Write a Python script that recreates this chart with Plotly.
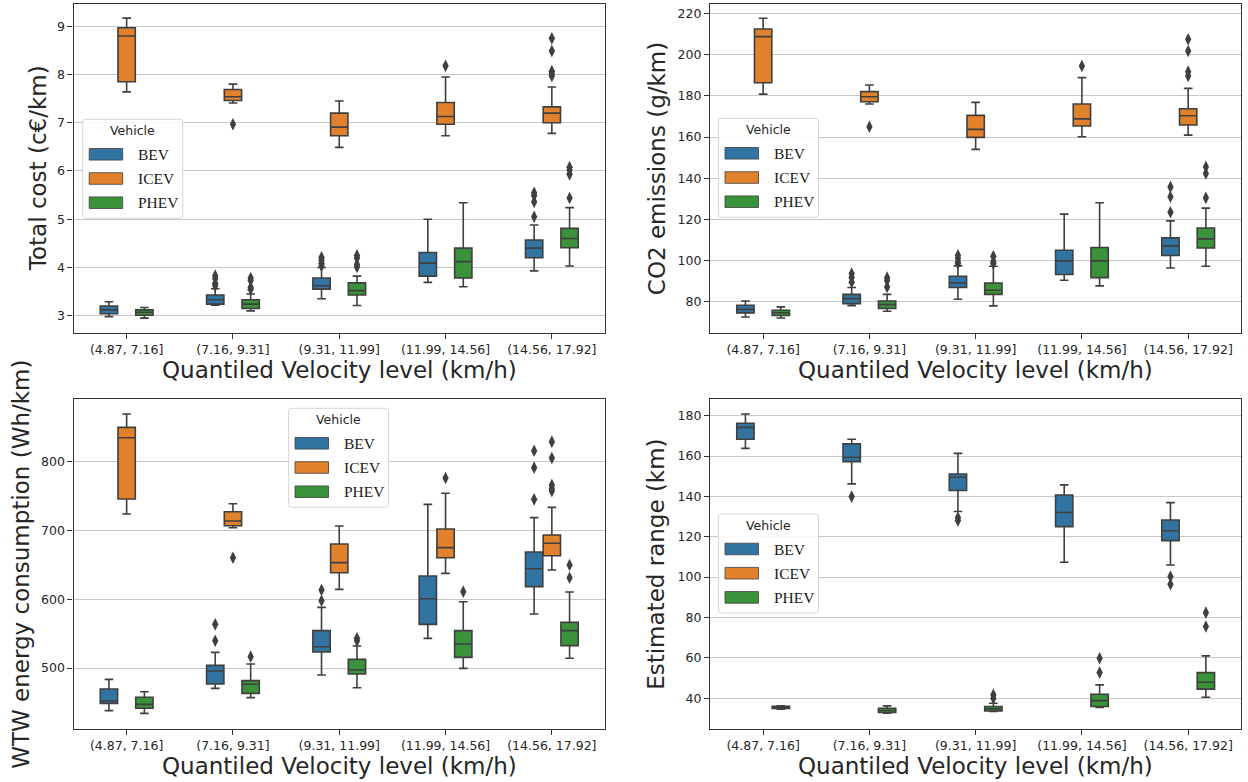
import plotly.graph_objects as go

# Velocity bins shared by all four panels
CATEGORIES = ["(4.87, 7.16]", "(7.16, 9.31]", "(9.31, 11.99]", "(11.99, 14.56]", "(14.56, 17.92]"]
VEHICLES = ["BEV", "ICEV", "PHEV"]
COLORS = {"BEV": "#3274a1", "ICEV": "#e1812c", "PHEV": "#3a923a"}

# Box statistics per bin: [lower whisker, q1, median, q3, upper whisker]; None = no data
COST_BEV = [[2.98, 3.04, 3.12, 3.20, 3.29], [3.22, 3.24, 3.33, 3.43, 3.56], [3.35, 3.55, 3.62, 3.78, 4.00],
            [3.69, 3.82, 4.09, 4.31, 5.00], [3.93, 4.20, 4.40, 4.57, 4.88]]
COST_BEV_OUT = [[], [3.83, 3.77, 3.67, 3.62], [4.21, 4.15, 4.08, 4.03], [], [5.55, 5.49, 5.36, 5.05]]
COST_ICEV = [[7.64, 7.85, 8.80, 8.97, 9.17], [7.41, 7.46, 7.54, 7.69, 7.80], [6.49, 6.73, 6.91, 7.20, 7.45],
             [6.73, 6.97, 7.13, 7.42, 7.95], [6.78, 7.00, 7.20, 7.33, 7.74]]
COST_ICEV_OUT = [[], [6.97], [], [8.18], [8.75, 8.49, 8.07, 8.02, 7.97]]
COST_PHEV = [[2.95, 3.01, 3.07, 3.12, 3.17], [3.10, 3.15, 3.24, 3.33, 3.45], [3.21, 3.43, 3.52, 3.68, 3.82],
             [3.60, 3.78, 4.12, 4.40, 5.34], [4.03, 4.41, 4.60, 4.81, 5.24]]
COST_PHEV_OUT = [[], [3.78, 3.73, 3.59, 3.55], [4.25, 4.19, 4.06, 4.01], [], [6.08, 6.02, 5.93, 5.44]]

CO2_BEV = [[72.7, 74.7, 76.4, 78.4, 80.5], [78.2, 79.2, 81.6, 83.7, 87.0], [81.3, 87.0, 89.2, 92.5, 97.5],
           [90.5, 93.3, 99.9, 105.1, 122.6], [96.5, 102.5, 107.2, 111.1, 119.3]]
CO2_BEV_OUT = [[], [93.8, 91.9, 89.6], [102.6, 101.2, 99.5, 98.6], [], [135.8, 131.0, 123.5]]
CO2_ICEV = [[180.8, 186.3, 208.7, 212.4, 217.6], [176.0, 177.1, 179.5, 182.0, 185.2],
            [154.0, 159.8, 163.7, 170.5, 176.8], [160.1, 165.3, 168.8, 176.0, 188.8],
            [160.9, 165.8, 170.3, 173.7, 183.6]]
CO2_ICEV_OUT = [[], [165.0], [], [194.4], [207.4, 201.7, 191.7, 189.6]]
CO2_PHEV = [[72.2, 73.4, 74.8, 76.0, 77.6], [75.5, 76.8, 78.7, 80.5, 83.7], [78.1, 83.7, 85.7, 89.2, 97.3],
            [87.8, 91.8, 99.9, 106.4, 128.1], [97.3, 106.2, 110.6, 115.9, 125.5]]
CO2_PHEV_OUT = [[], [91.8, 90.4, 87.3], [102.2, 99.6, 98.6], [], [145.5, 142.3, 130.5]]

WTW_BEV = [[438.0, 448.6, 452.0, 469.5, 483.5], [470.4, 476.7, 495.6, 503.9, 522.8],
           [489.8, 523.3, 531.0, 554.3, 588.2], [543.1, 563.5, 600.8, 633.8, 738.0],
           [578.5, 618.3, 644.4, 668.7, 718.6]]
WTW_BEV_OUT = [[], [563.5, 539.7], [613.4, 597.9], [], [816.0, 791.3, 745.2]]
WTW_ICEV = [[723.9, 745.7, 834.9, 849.9, 869.3], [704.0, 706.9, 713.7, 727.3, 738.9],
            [614.4, 638.6, 653.2, 680.3, 706.5], [637.6, 660.4, 675.0, 702.1, 754.0],
            [642.5, 663.3, 681.3, 693.4, 733.6]]
WTW_ICEV_OUT = [[], [660.4], [], [776.3], [829.1, 805.3, 766.1, 761.0, 757.4]]
WTW_PHEV = [[434.1, 441.4, 447.2, 457.4, 465.6], [456.9, 463.2, 476.3, 481.6, 505.8],
            [471.4, 491.3, 497.1, 512.6, 532.0], [499.5, 515.5, 534.9, 554.3, 596.4],
            [514.1, 532.5, 554.3, 566.4, 610.5]]
WTW_PHEV_OUT = [[], [516.5], [543.1, 539.7], [611.0], [649.8, 631.3]]

RANGE_BEV = [[163.8, 168.3, 174.2, 176.2, 180.8], [146.2, 157.2, 159.4, 166.0, 168.3],
             [132.5, 142.9, 149.5, 151.1, 161.3], [107.4, 125.0, 132.0, 140.7, 145.7],
             [106.0, 118.1, 123.0, 128.3, 136.9]]
RANGE_BEV_OUT = [[], [139.9], [129.5, 128.0], [], [100.3, 96.5]]
RANGE_ICEV = [None, None, None, None, None]
RANGE_ICEV_OUT = [[], [], [], [], []]
RANGE_PHEV = [[34.6, 34.9, 35.4, 36.0, 36.3], [32.6, 32.9, 33.9, 35.0, 36.2], [33.4, 33.7, 34.7, 35.9, 37.5],
              [35.4, 35.9, 38.8, 42.0, 46.6], [40.5, 44.5, 47.9, 52.7, 61.0]]
RANGE_PHEV_OUT = [[], [], [41.7, 40.0], [59.8, 52.7], [82.4, 75.5]]

W, H = 1248, 782
TEXT = "#262626"
EDGE = "#3f3f3f"
HUE_STEP = 0.1667      # dodge between hue levels
BOX_W = 0.163          # box width in category units

# panel: (axis suffix, stats, y-title, y range, dtick, frame px [l, t, r, b], legend px [l, t], y-title x px)
PANELS = [
    ("", {"BEV": (COST_BEV, COST_BEV_OUT), "ICEV": (COST_ICEV, COST_ICEV_OUT), "PHEV": (COST_PHEV, COST_PHEV_OUT)},
     "Total cost (c€/km)", [2.635, 9.462], 1, [73.5, 4, 605, 333.3], [82.7, 119.3], 37.5),
    ("2", {"BEV": (CO2_BEV, CO2_BEV_OUT), "ICEV": (CO2_ICEV, CO2_ICEV_OUT), "PHEV": (CO2_PHEV, CO2_PHEV_OUT)},
     "CO2 emissions (g/km)", [64.8, 224.5], 20, [710, 4, 1241.3, 333.3], [718.5, 118.3], 656.5),
    ("3", {"BEV": (WTW_BEV, WTW_BEV_OUT), "ICEV": (WTW_ICEV, WTW_ICEV_OUT), "PHEV": (WTW_PHEV, WTW_PHEV_OUT)},
     "WTW energy consumption (Wh/km)", [410.9, 890.7], 100, [73.5, 399.3, 605, 729.3], [288.5, 408.3], 21.5),
    ("4", {"BEV": (RANGE_BEV, RANGE_BEV_OUT), "ICEV": (RANGE_ICEV, RANGE_ICEV_OUT),
           "PHEV": (RANGE_PHEV, RANGE_PHEV_OUT)},
     "Estimated range (km)", [24.6, 188.1], 20, [710, 399.3, 1241.3, 729.3], [718.5, 514], 656.5),
]

fig = go.Figure()
layout = dict(width=W, height=H, margin=dict(l=0, r=0, t=0, b=0), showlegend=False,
              paper_bgcolor="white", plot_bgcolor="white",
              font=dict(family="DejaVu Sans", color=TEXT, size=12.5))
shapes, annotations = [], []


def px(x):
    return x / W


def py(y):
    return 1 - y / H


def rounded_rect(x0, y0, x1, y1, r):
    """Rounded rectangle path in paper coordinates from pixel corners."""
    rx, ry = r / W, r / H
    a0, a1, b0, b1 = px(x0), px(x1), py(y1), py(y0)
    return (f"M{a0 + rx},{b0} L{a1 - rx},{b0} Q{a1},{b0} {a1},{b0 + ry} "
            f"L{a1},{b1 - ry} Q{a1},{b1} {a1 - rx},{b1} L{a0 + rx},{b1} Q{a0},{b1} {a0},{b1 - ry} "
            f"L{a0},{b0 + ry} Q{a0},{b0} {a0 + rx},{b0} Z")


for suffix, stats, ytitle, yrange, dtick, frame, leg, ytitle_x in PANELS:
    xa, ya = "x" + suffix, "y" + suffix
    for k, veh in enumerate(VEHICLES):
        boxes, outs = stats[veh]
        off = (k - 1) * HUE_STEP
        xs, lo, q1, med, q3, hi = [], [], [], [], [], []
        for i, b in enumerate(boxes):
            if b is None:
                continue
            xs.append(i + off)
            lo.append(b[0]); q1.append(b[1]); med.append(b[2]); q3.append(b[3]); hi.append(b[4])
        if xs:
            fig.add_trace(go.Box(x=xs, lowerfence=lo, q1=q1, median=med, q3=q3, upperfence=hi,
                                 width=BOX_W, whiskerwidth=0.5, boxpoints=False,
                                 fillcolor=COLORS[veh], line=dict(color=EDGE, width=1.6),
                                 name=veh, xaxis=xa, yaxis=ya, hoverinfo="skip"))
        ox, oy = [], []
        for i, vals in enumerate(outs):
            for v in vals:
                ox.append(i + off)
                oy.append(v)
        if ox:
            fig.add_trace(go.Scatter(x=ox, y=oy, mode="markers", xaxis=xa, yaxis=ya,
                                     marker=dict(symbol="diamond-tall", size=9, color=EDGE,
                                                 line=dict(width=0)),
                                     hoverinfo="skip", name=veh + " outliers"))

    l, t, r, b = frame
    layout["xaxis" + suffix] = dict(domain=[px(l), px(r)], anchor=ya, range=[-0.5, 4.5],
                                    tickmode="array", tickvals=list(range(len(CATEGORIES))),
                                    ticktext=CATEGORIES, ticks="outside", ticklen=5, tickwidth=1.2,
                                    tickcolor="#333333", showline=True, mirror=True,
                                    linecolor="#333333", linewidth=1.2, showgrid=False, zeroline=False,
                                    tickfont=dict(size=12.5, color=TEXT))
    layout["yaxis" + suffix] = dict(domain=[py(b), py(t)], anchor=xa, range=yrange, dtick=dtick,
                                    ticks="outside", ticklen=5, tickwidth=1.2, tickcolor="#333333",
                                    showline=True, mirror=True, linecolor="#333333", linewidth=1.2,
                                    showgrid=True, gridcolor="#c8c8c8", gridwidth=1, zeroline=False,
                                    tickfont=dict(size=12.5, color=TEXT))

    # axis titles
    annotations.append(dict(text="Quantiled Velocity level (km/h)", xref="paper", yref="paper",
                            x=px((l + r) / 2), y=py(b + 37), xanchor="center", yanchor="middle",
                            showarrow=False, font=dict(size=23, color=TEXT)))
    annotations.append(dict(text=ytitle, xref="paper", yref="paper", textangle=-90,
                            x=px(ytitle_x), y=py((t + b) / 2), xanchor="center", yanchor="middle",
                            showarrow=False, font=dict(size=23, color=TEXT)))

    # legend box
    lx, ly = leg
    shapes.append(dict(type="path", xref="paper", yref="paper", path=rounded_rect(lx, ly, lx + 100, ly + 99, 3),
                       fillcolor="rgba(255,255,255,0.85)", line=dict(color="#d6d6d6", width=1),
                       layer="above"))
    annotations.append(dict(text="Vehicle", xref="paper", yref="paper", x=px(lx + 49.5), y=py(ly + 11.5),
                            xanchor="center", yanchor="middle", showarrow=False,
                            font=dict(size=12.5, color=TEXT)))
    for k, veh in enumerate(VEHICLES):
        cy = ly + 35 + 24.2 * k
        shapes.append(dict(type="rect", xref="paper", yref="paper", x0=px(lx + 6.5), x1=px(lx + 40),
                           y0=py(cy + 5.8), y1=py(cy - 5.8), fillcolor=COLORS[veh],
                           line=dict(color=EDGE, width=0.8), layer="above"))
        annotations.append(dict(text=veh, xref="paper", yref="paper", x=px(lx + 53), y=py(cy),
                                xanchor="left", yanchor="middle", showarrow=False,
                                font=dict(family="Liberation Serif", size=15.5, color="#1a1a1a")))

layout["shapes"] = shapes
layout["annotations"] = annotations
fig.update_layout(**layout)
fig.write_html("out.html")
